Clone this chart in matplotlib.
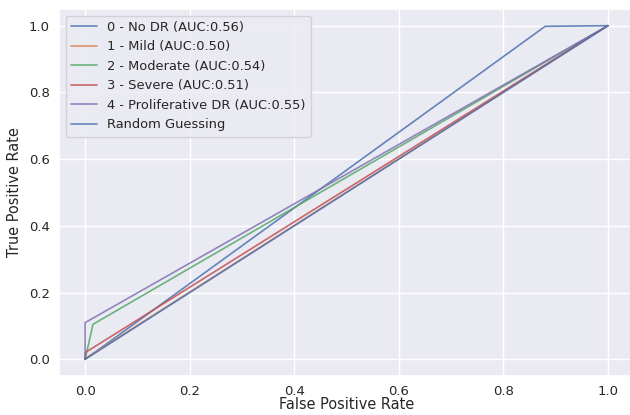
import numpy as np
import matplotlib
matplotlib.use('Agg')
import matplotlib.pyplot as plt
import seaborn as sns

sns.set_theme(font_scale=0.87)

# ROC points per class
labels = ['0 - No DR', '1 - Mild', '2 - Moderate', '3 - Severe', '4 - Proliferative DR']
fpr = [
    [0.0, 0.88, 1.0],
    [0.0, 0.0, 1.0],
    [0.0, 0.015, 1.0],
    [0.0, 0.0, 1.0],
    [0.0, 0.0, 1.0],
]
tpr = [
    [0.0, 0.998, 1.0],
    [0.0, 0.002, 1.0],
    [0.0, 0.105, 1.0],
    [0.0, 0.02, 1.0],
    [0.0, 0.11, 1.0],
]
auc = [0.56, 0.50, 0.54, 0.51, 0.55]

fig = plt.figure(figsize=(6.3, 4.15), dpi=100)
ax = fig.add_axes([59 / 630, 39 / 415, 575 / 630, 367 / 415])
for i in range(len(labels)):
    ax.plot(fpr[i], tpr[i], lw=1.2, alpha=0.85,
            label='%s (AUC:%0.2f)' % (labels[i], auc[i]))
ax.plot([0, 1], [0, 1], 'b-', lw=1.2, alpha=0.85, label='Random Guessing')
ax.set_xlim(-0.05, 1.05)
ax.set_ylim(-0.05, 1.05)
ax.tick_params(axis='both', length=0, pad=6.5)
ax.set_xlabel('False Positive Rate', labelpad=-1)
ax.set_ylabel('True Positive Rate', labelpad=5)
ax.legend(loc='upper left', fontsize=9.4)
plt.savefig('out.png')
